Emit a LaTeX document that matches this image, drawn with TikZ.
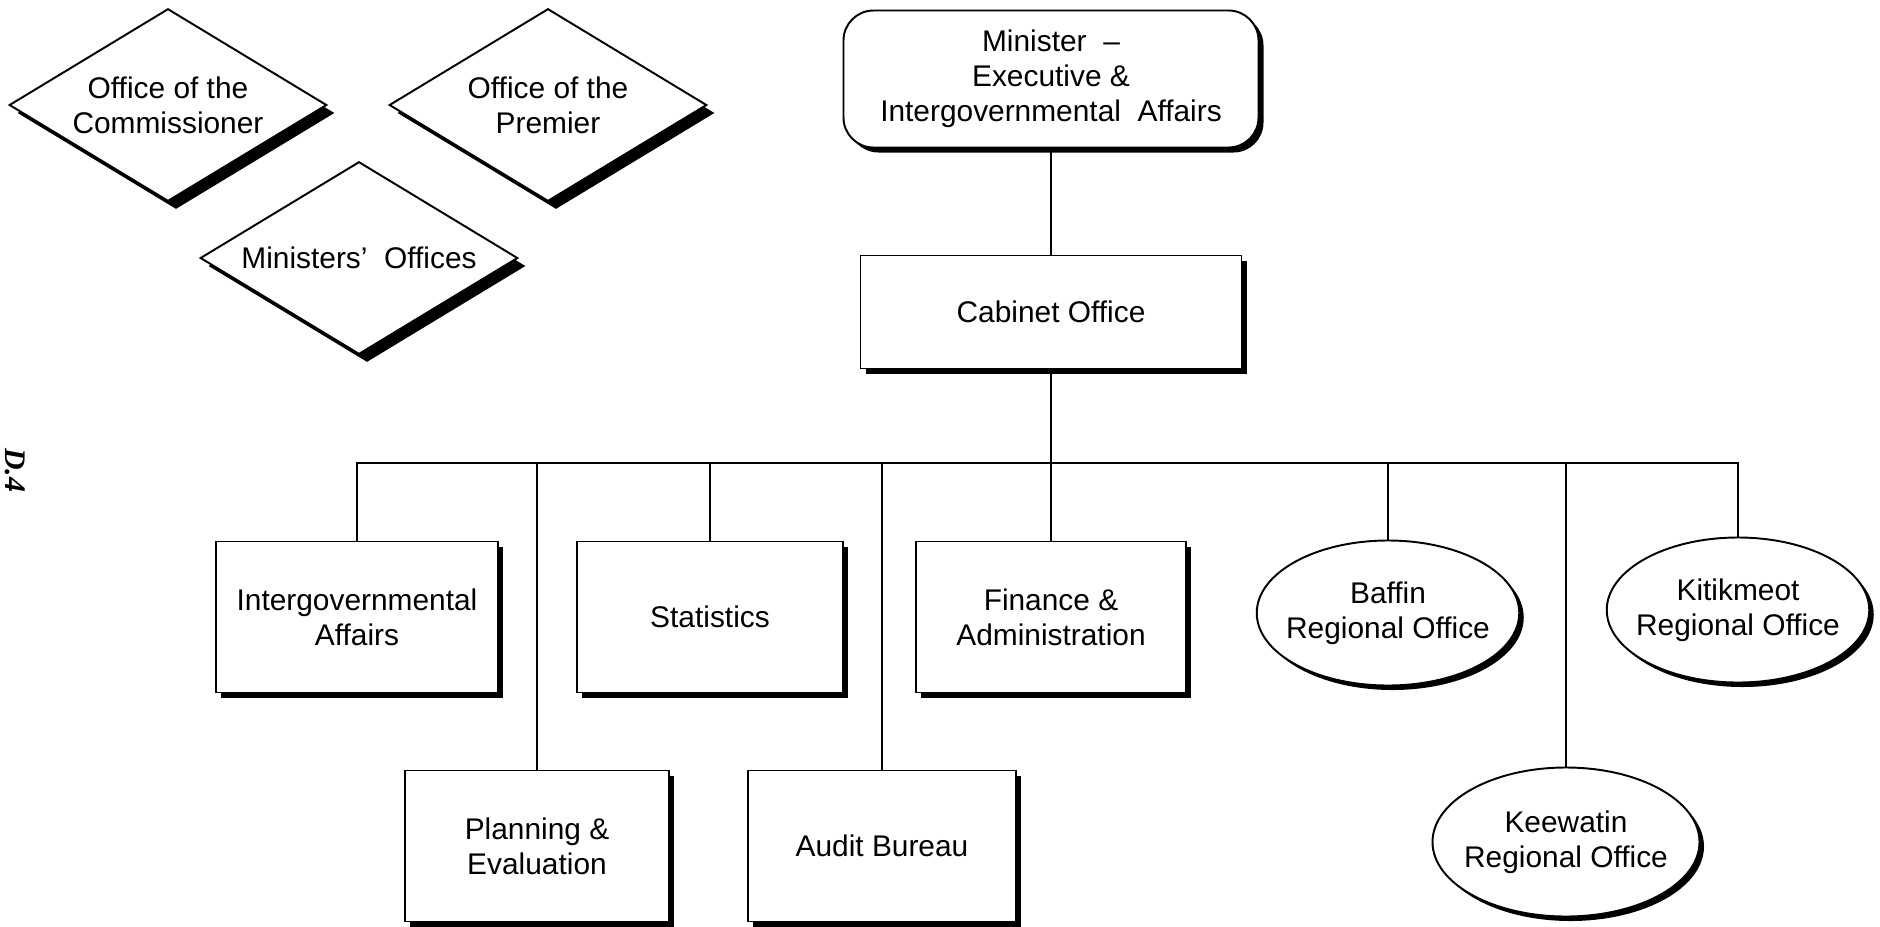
\documentclass[tikz,border=0pt]{standalone}
\usepackage{fontspec}
\setmainfont{Liberation Sans}
\newfontfamily\pagefont{Liberation Serif}
\usetikzlibrary{positioning,shapes.geometric,shadows}

\begin{document}
\begin{tikzpicture}[
    blackshadow/.style={drop shadow={shadow xshift=#1, shadow yshift=-#1, fill=black, opacity=1}},
    unit/.style={rectangle, draw, line width=1.1pt, fill=white, align=center,
        minimum width=5.4cm, minimum height=3.02cm, font=\fontsize{17}{20}\selectfont, blackshadow=0.1cm},
    region/.style={ellipse, draw, line width=1.1pt, fill=white, align=center,
        inner xsep=-0.5cm, inner ysep=0pt, minimum width=5.25cm, minimum height=2.9cm,
        font=\fontsize{17}{20}\selectfont, blackshadow=0.09cm},
    office/.style={diamond, draw, line width=1.1pt, fill=white, align=center, inner sep=0pt,
        aspect=1.66, minimum width=6.35cm, minimum height=3.85cm,
        font=\fontsize{17}{20}\selectfont, blackshadow=0.16cm},
    link/.style={line width=0.8pt},
]
\useasboundingbox[fill=white] (0,0) rectangle (37.6,-18.52);

% Page number
\node[rotate=-90, font=\pagefont\fontsize{17}{20}\selectfont\bfseries\itshape] (page) at (0.3,-9.4) {D.4};

% Offices
\node[office] (com) at (3.36,-2.1) {Office of the\\Commissioner};
\node[office] (pre) at (10.96,-2.1) {Office of the\\Premier};
\node[office] (mins) at (7.18,-5.16) {Ministers'\ \ Offices};

% Minister and Cabinet Office
\node[unit, rounded corners=0.6cm, minimum width=8.3cm, minimum height=2.74cm, blackshadow=0.08cm]
    (min) at (21.02,-1.58) {Minister\ \ --\\Executive \&\\Intergovernmental\ \ Affairs};
\node[unit, minimum width=7.62cm, minimum height=2.26cm] (cab) at (21.02,-6.24) {Cabinet Office};
\coordinate (bus) at (21.02,-9.26);

% Divisions
\node[unit, minimum width=5.64cm] (ia) at (7.14,-12.34) {Intergovernmental\\Affairs};
\node[unit, minimum width=5.32cm] (st) at (14.2,-12.34) {Statistics};
\node[unit] (fa) at (21.02,-12.34) {Finance \&\\Administration};
\node[unit, minimum width=5.28cm] (pe) at (10.74,-16.92) {Planning \&\\Evaluation};
\node[unit, minimum width=5.36cm] (au) at (17.64,-16.92) {Audit Bureau};

% Regional offices
\node[region] (ba) at (27.76,-12.26) {Baffin\\Regional Office};
\node[region, minimum width=5.34cm, minimum height=2.98cm] (ke) at (31.32,-16.84) {Keewatin\\Regional Office};
\node[region] (ki) at (34.76,-12.2) {Kitikmeot\\Regional Office};

% Connections
\draw[link] (min) -- (cab);
\draw[link] (cab) -- (bus);
\foreach \n in {ia,pe,st,au,fa,ba,ke,ki}
    \draw[link] (\n.north) |- (bus);

\end{tikzpicture}
\end{document}
